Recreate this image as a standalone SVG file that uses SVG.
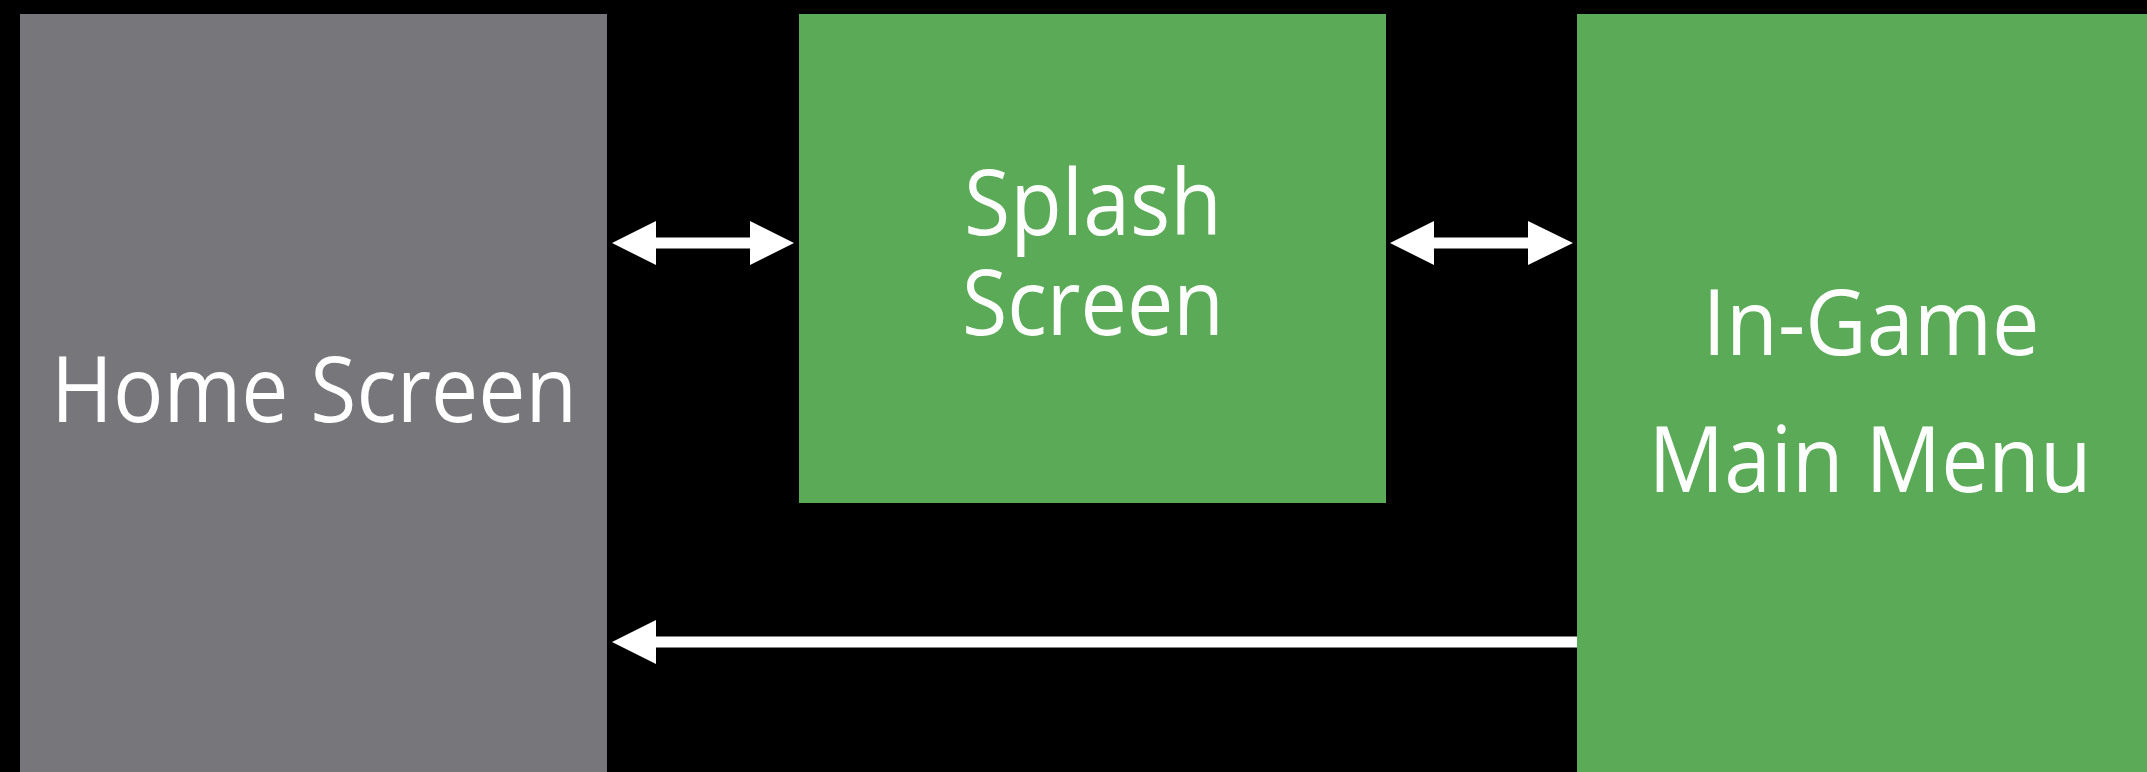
<svg xmlns="http://www.w3.org/2000/svg" width="2147" height="772" viewBox="0 0 2147 772">
  <style>
    .label { font-family: "Open Sans", "Noto Sans", "Liberation Sans", sans-serif; font-size: 91px; fill: #ffffff; text-anchor: middle; }
    .gray { fill: #77767b; }
    .green { fill: #5aaa57; }
    .arrow { fill: #ffffff; }
  </style>
  <rect width="2147" height="772" fill="#000000"/>

  <g id="home-screen">
    <rect class="gray" x="20" y="14" width="587" height="758"/>
    <text class="label" x="314" y="422" textLength="526" lengthAdjust="spacingAndGlyphs">Home Screen</text>
  </g>

  <g id="splash-screen">
    <rect class="green" x="799" y="14" width="587" height="489"/>
    <text class="label" x="1093" y="235" textLength="258" lengthAdjust="spacingAndGlyphs">Splash</text>
    <text class="label" x="1093" y="335" textLength="262" lengthAdjust="spacingAndGlyphs">Screen</text>
  </g>

  <g id="in-game-main-menu">
    <rect class="green" x="1577" y="14" width="570" height="758"/>
    <text class="label" x="1871" y="355" textLength="337" lengthAdjust="spacingAndGlyphs">In-Game</text>
    <text class="label" x="1870" y="492" textLength="443" lengthAdjust="spacingAndGlyphs">Main Menu</text>
  </g>

  <g id="connectors">
    <!-- Home <-> Splash -->
    <polygon class="arrow" points="612,243 656,221 656,237.5 750,237.5 750,221 794,243 750,265 750,248.5 656,248.5 656,265"/>
    <!-- Splash <-> In-Game -->
    <polygon class="arrow" points="1390,243 1434,221 1434,237.5 1528,237.5 1528,221 1573,243 1528,265 1528,248.5 1434,248.5 1434,265"/>
    <!-- In-Game -> Home -->
    <polygon class="arrow" points="612,642 656,620 656,636.5 1577,636.5 1577,647.5 656,647.5 656,664"/>
  </g>
</svg>
